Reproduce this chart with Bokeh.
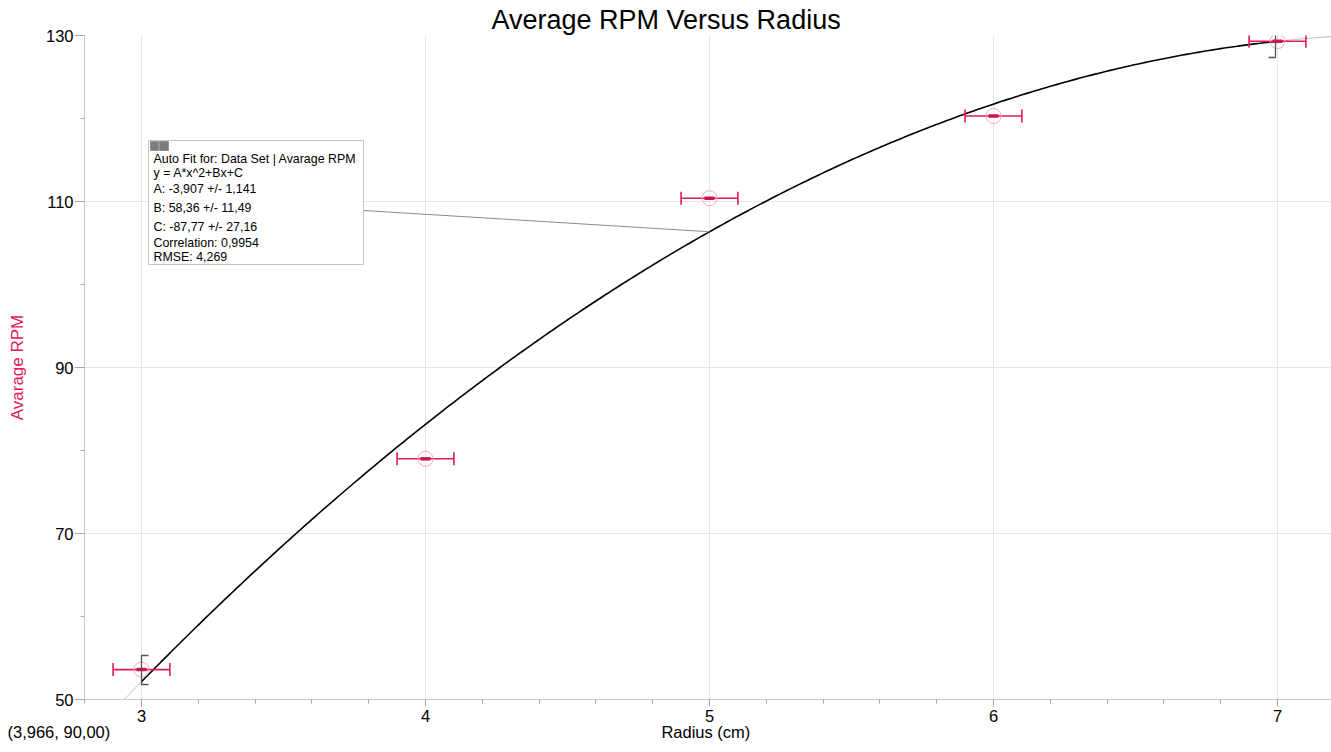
import numpy as np
from bokeh.plotting import figure
from bokeh.models import FixedTicker, SingleIntervalTicker, Range1d, LinearAxis
from bokeh.core.properties import value
from bokeh.embed import file_html
from bokeh.resources import INLINE

# ---- data ----
radius = [3, 4, 5, 6, 7]
avg_rpm = [53.6, 79.0, 110.4, 120.3, 129.3]
radius_err = [0.1, 0.1, 0.1, 0.1, 0.1]

fit_A, fit_B, fit_C = -3.907, 58.36, -87.77
fit_range = [3.0, 7.0]

y_ticks = [50, 70, 90, 110, 130]
y_minor = [60, 80, 100, 120]

title_text = "Average RPM Versus Radius"
x_label = "Radius  (cm)"
y_label = "Avarage RPM"
coord_text = "(3,966, 90,00)"
fit_lines = [
    "Auto Fit for: Data Set | Avarage RPM",
    "y = A*x^2+Bx+C",
    "A: -3,907 +/- 1,141",
    "B: 58,36 +/- 11,49",
    "C: -87,77 +/- 27,16",
    "Correlation: 0,9954",
    "RMSE: 4,269",
]

PINK = "#E3185C"
FONT = "Liberation Sans"


def fit(x):
    x = np.asarray(x, dtype=float)
    return fit_A * x**2 + fit_B * x + fit_C


# pixel -> data helpers (reference geometry)
def px_x(px):
    return 3 + (px - 141) / 284.0


def px_y(py):
    return 50 + (699 - py) / 8.3


X0, X1 = px_x(84), px_x(1331)
p = figure(width=1331, height=752, output_backend="svg", toolbar_location=None,
           x_range=Range1d(X0, X1), y_range=Range1d(50, 130),
           min_border_left=84, min_border_right=0, min_border_top=35, min_border_bottom=53)

p.background_fill_color = "white"
p.border_fill_color = "white"
p.outline_line_color = None

# title
p.title.text = title_text
p.title.text_font = FONT
p.title.text_font_size = "27px"
p.title.text_font_style = "normal"
p.title.text_color = "black"
p.title.align = "left"
p.title.offset = 407
p.title.standoff = 1

p.xaxis.ticker = SingleIntervalTicker(interval=1, num_minor_ticks=5)
p.yaxis.ticker = FixedTicker(ticks=y_ticks, minor_ticks=y_minor)
for ax in (p.xaxis, p.yaxis):
    ax.axis_line_color = "#c8c8c8"
    ax.major_tick_line_color = "#a8a8a8"
    ax.minor_tick_line_color = "#a8a8a8"
    ax.major_tick_in = 0
    ax.minor_tick_in = 0
    ax.major_label_text_font = FONT
    ax.major_label_text_font_size = "16.5px"
    ax.major_label_text_color = "black"
p.xaxis.major_tick_out = 7
p.xaxis.minor_tick_out = 4
p.xaxis.major_label_standoff = 3
p.yaxis.major_tick_out = 10
p.yaxis.minor_tick_out = 4
p.yaxis.major_label_standoff = 1
p.yaxis.axis_label = y_label
p.yaxis.axis_label_text_font = FONT
p.yaxis.axis_label_text_font_size = "17px"
p.yaxis.axis_label_text_font_style = "normal"
p.yaxis.axis_label_text_color = PINK
p.yaxis.axis_label_standoff = 16
p.grid.grid_line_color = "#e6e6e6"

# second axis under the first one: carries the axis title and the cursor readout,
# each right-aligned at its tick (tiny positive orientation => right alignment)
coord_tick, label_tick = 2.89, 5.16
ax2 = LinearAxis(ticker=FixedTicker(ticks=[coord_tick, label_tick]),
                 major_label_overrides={coord_tick: coord_text, label_tick: x_label},
                 major_label_orientation=1e-4,
                 axis_line_color=None, major_tick_line_color=None, minor_tick_line_color=None,
                 major_tick_out=0, major_tick_in=0, minor_tick_out=0, minor_tick_in=0,
                 major_label_standoff=7, major_label_text_font=FONT,
                 major_label_text_font_size="16.5px", major_label_text_color="black")
p.add_layout(ax2, "below")

# ---- fit curve ----
disc = np.sqrt(fit_B**2 - 4 * fit_A * (fit_C - 50))
x_lo = min((-fit_B + disc) / (2 * fit_A), (-fit_B - disc) / (2 * fit_A))
xe1 = np.linspace(x_lo, fit_range[0], 20)
xe2 = np.linspace(fit_range[1], X1, 40)
p.line(xe1, fit(xe1), line_color="#b8b8b8", line_width=1)
p.line(xe2, fit(xe2), line_color="#b8b8b8", line_width=1)
xf = np.linspace(fit_range[0], fit_range[1], 300)
p.line(xf, fit(xf), line_color="black", line_width=1.6)

# ---- error bars & points ----
r = np.array(radius, dtype=float)
e = np.array(radius_err, dtype=float)
yv = np.array(avg_rpm, dtype=float)
p.segment(x0=r - e, x1=r + e, y0=yv, y1=yv, line_color=PINK, line_width=1.6)
p.scatter(x=np.concatenate([r - e, r + e]), y=np.concatenate([yv, yv]), marker="dash",
          angle=np.pi / 2, size=13, line_color=PINK, line_width=1.6)
p.scatter(x=r, y=yv, marker="circle", size=15, fill_color=None,
          line_color="#F4A6C0", line_width=1)
p.scatter(x=r, y=yv, marker="dash", size=10, line_color="#D0124E", line_width=3.5)

# ---- range brackets of the fit ----
lb_x, rb_x = fit_range[0], px_x(1275)
tick = 7 / 284.0
p.multi_line(
    xs=[[lb_x + tick, lb_x, lb_x, lb_x + tick], [rb_x - tick, rb_x, rb_x, rb_x - tick]],
    ys=[[px_y(655), px_y(655), px_y(684), px_y(684)], [px_y(27), px_y(27), px_y(57), px_y(57)]],
    line_color="#555555", line_width=1.3)

# ---- annotation box ----
p.line([px_x(363), fit_range[0] + 2.0], [px_y(210), fit(fit_range[0] + 2.0)],
       line_color="#8a8a8a", line_width=1)
p.quad(left=px_x(148), right=px_x(363), top=px_y(140), bottom=px_y(264),
       fill_color="white", line_color="#c4c4c4", line_width=1)
p.quad(left=[px_x(150), px_x(159)], right=[px_x(158), px_x(168)],
       top=[px_y(141), px_y(141)], bottom=[px_y(150), px_y(150)],
       fill_color="#7c7c7c", line_color="#6a6a6a", line_width=0.5)
line_py = [158, 172, 188, 207, 226, 242, 256]
p.text(x=[px_x(153)] * len(fit_lines), y=[px_y(v) for v in line_py], text=fit_lines,
       text_font=value(FONT), text_font_size="12.4px", text_color="black",
       text_baseline="middle", text_align="left")

open("out.html", "w").write(file_html(p, INLINE))
